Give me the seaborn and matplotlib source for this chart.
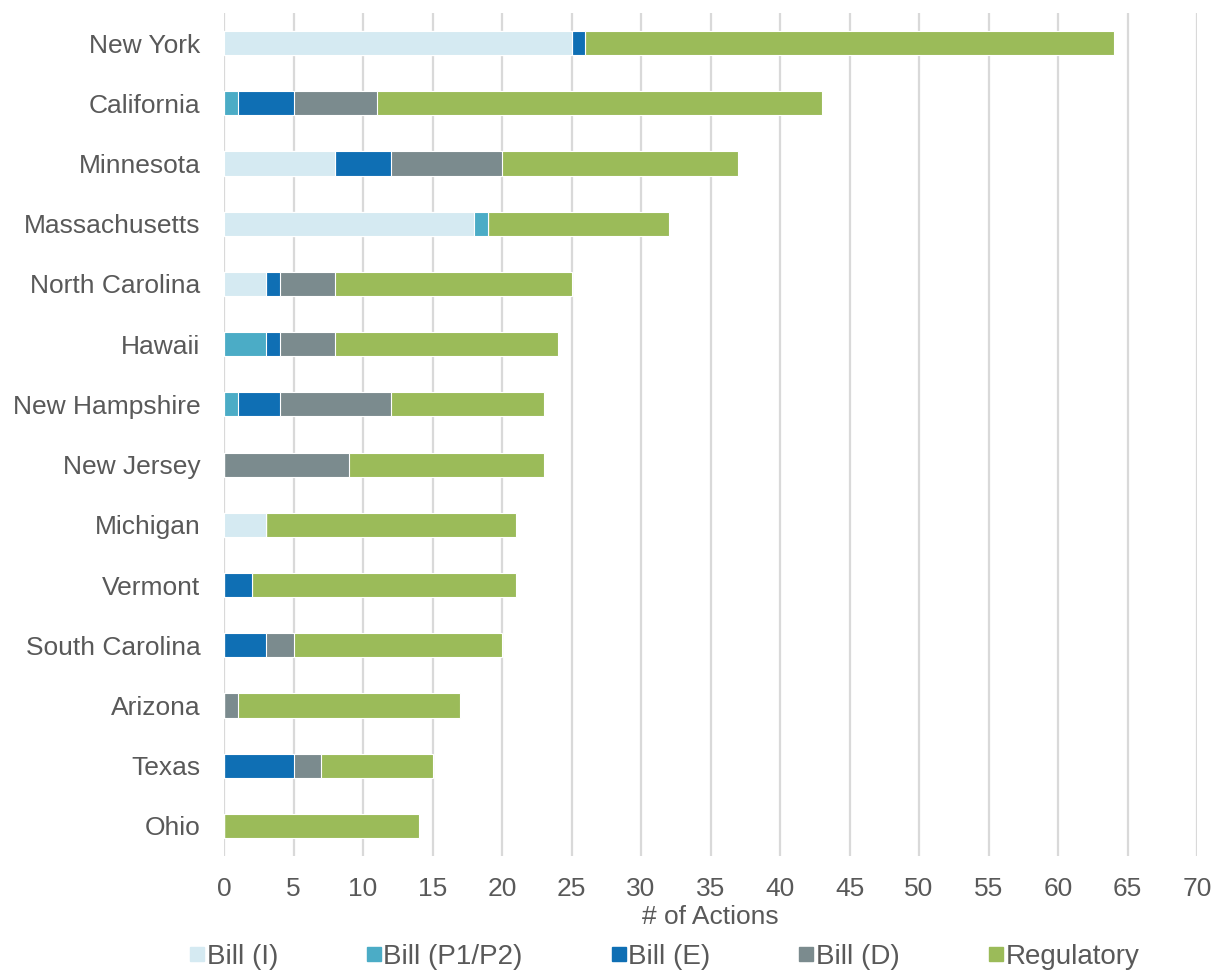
import matplotlib
matplotlib.use("Agg")
import matplotlib.pyplot as plt
import seaborn as sns
import numpy as np
import pandas as pd
from matplotlib.lines import Line2D

states = ["New York", "California", "Minnesota", "Massachusetts", "North Carolina",
          "Hawaii", "New Hampshire", "New Jersey", "Michigan", "Vermont",
          "South Carolina", "Arizona", "Texas", "Ohio"]
bill_i = [25, 0, 8, 18, 3, 0, 0, 0, 3, 0, 0, 0, 0, 0]
bill_p = [0, 1, 0, 1, 0, 3, 1, 0, 0, 0, 0, 0, 0, 0]
bill_e = [1, 4, 4, 0, 1, 1, 3, 0, 0, 2, 3, 0, 5, 0]
bill_d = [0, 6, 8, 0, 4, 4, 8, 9, 0, 0, 2, 1, 2, 0]
regulatory = [38, 32, 17, 13, 17, 16, 11, 14, 18, 19, 15, 16, 8, 14]

series_names = ["Bill (I)", "Bill (P1/P2)", "Bill (E)", "Bill (D)", "Regulatory"]
colors = ["#D5EAF2", "#4BACC6", "#0F6FB4", "#7B8B8E", "#9BBB59"]

sns.set_theme(style="white")
plt.rcParams["font.family"] = ["Liberation Sans", "DejaVu Sans"]
text_color = "#595959"

df = pd.DataFrame({"State": states, "Bill (I)": bill_i, "Bill (P1/P2)": bill_p,
                   "Bill (E)": bill_e, "Bill (D)": bill_d, "Regulatory": regulatory})
cum = df[series_names].cumsum(axis=1)

fig = plt.figure(figsize=(12.15, 9.72), dpi=100)
ax = fig.add_axes([224 / 1215, 1 - 856 / 972, (1197 - 224) / 1215, (856 - 13) / 972])

for i in reversed(range(len(series_names))):
    name = series_names[i]
    sns.barplot(x=cum[name], y=df["State"], color=colors[i], orient="h",
                width=0.4, saturation=1, edgecolor="white", linewidth=0.8,
                ax=ax, zorder=3)

ax.set_xlim(0, 70)
ax.set_xticks(np.arange(0, 71, 5))
ax.xaxis.grid(True, color="#D9D9D9", linewidth=1.6, zorder=0)
ax.yaxis.grid(False)
ax.set_axisbelow(True)
for s in ax.spines.values():
    s.set_visible(False)
ax.tick_params(axis="both", length=0, labelsize=19, colors=text_color)
ax.tick_params(axis="y", pad=17)
ax.tick_params(axis="x", pad=15)
ax.set_ylabel("")
ax.set_xlabel("# of Actions", fontsize=19, color=text_color, labelpad=3)

handles = [Line2D([0], [0], marker="s", linestyle="", markersize=10,
                  markerfacecolor=c, markeredgecolor=c) for c in colors]
fig.legend(handles, series_names, loc="center", bbox_to_anchor=(0.547, 0.0154),
           ncol=5, frameon=False, fontsize=20, labelcolor=text_color,
           handlelength=0.5, handletextpad=0.1, columnspacing=3.2,
           borderpad=0, borderaxespad=0)

fig.savefig("out.png", dpi=100)
